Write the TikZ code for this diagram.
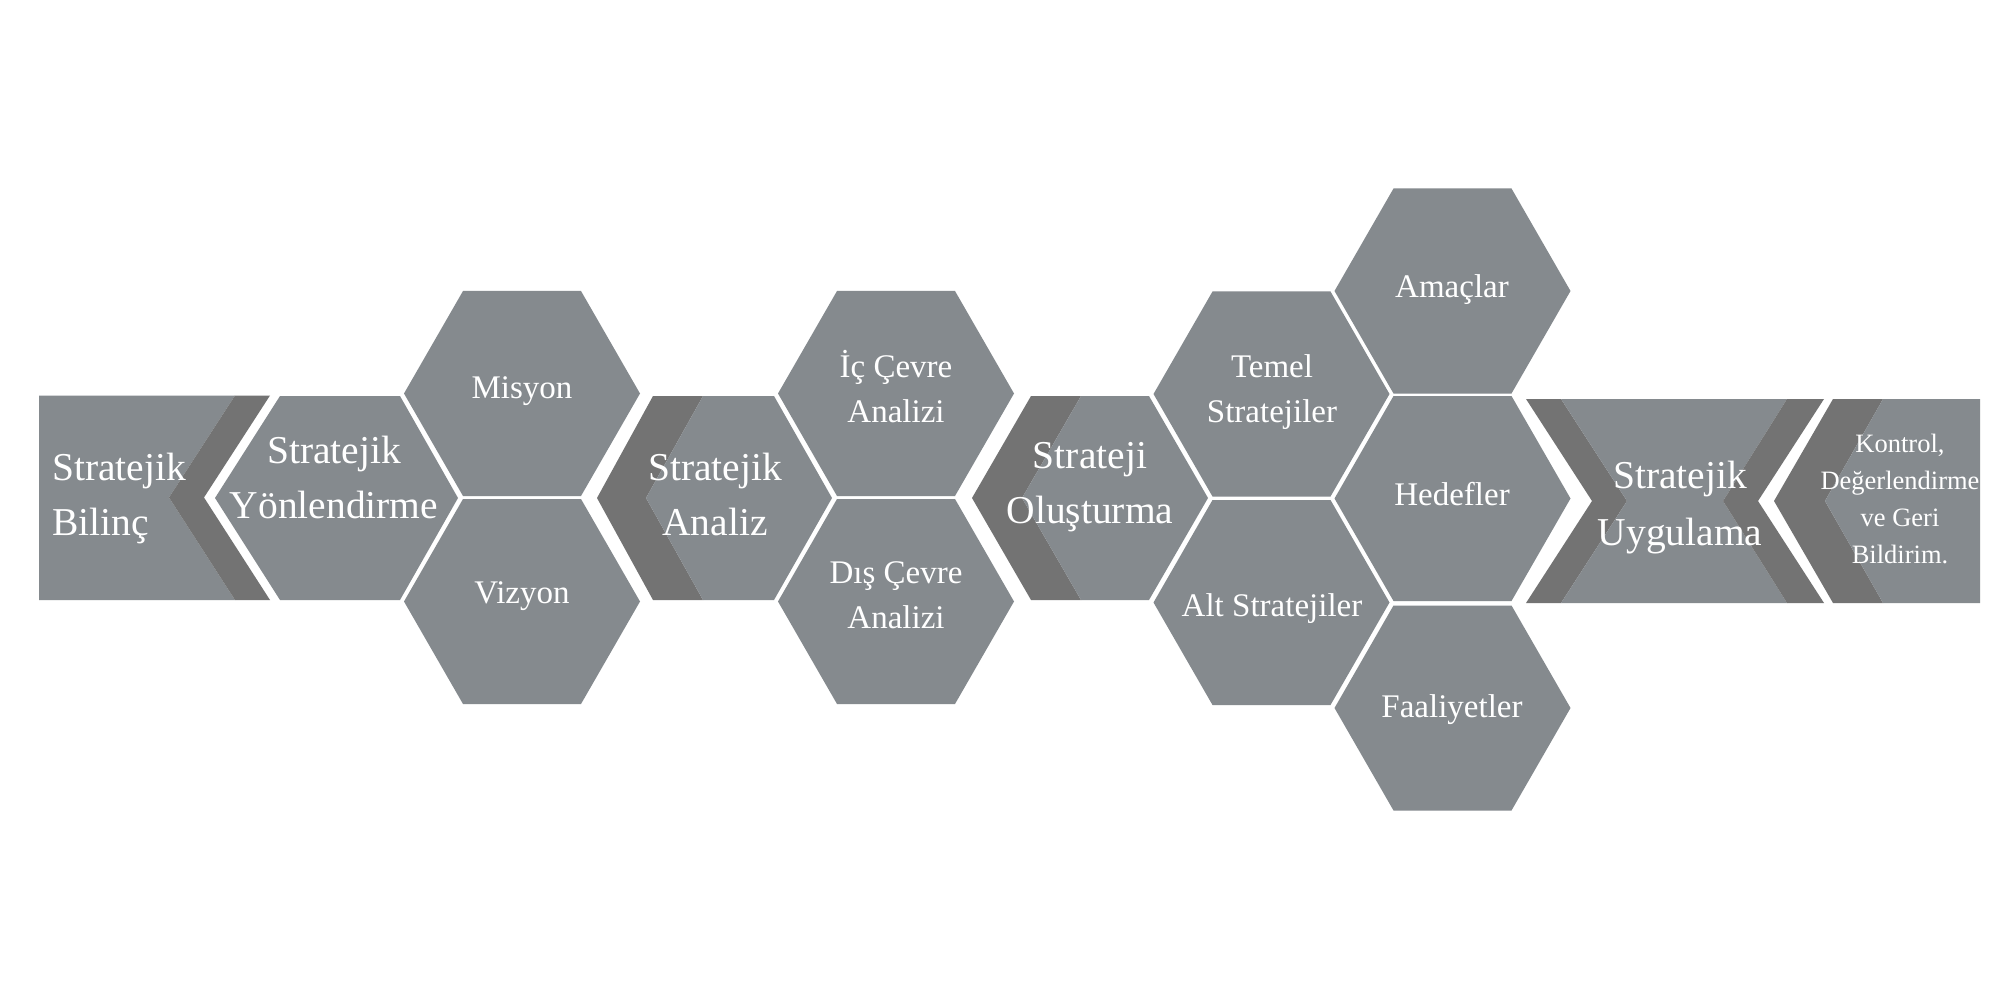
\documentclass[tikz,border=0pt]{standalone}
\usepackage{fontspec}
\setmainfont{Liberation Serif}
\definecolor{cellgray}{RGB}{133,138,142}
\definecolor{bandgray}{RGB}{115,115,115}
\newcommand{\hexcell}[2]{%
  \fill[cell] ({#1-118},{#2}) -- ({#1-59},{#2-102.5}) -- ({#1+59},{#2-102.5})
    -- ({#1+118},{#2}) -- ({#1+59},{#2+102.5}) -- ({#1-59},{#2+102.5}) -- cycle;}
\begin{document}
\begin{tikzpicture}[x=1pt,y=-1pt,
  cell/.style={fill=cellgray},
  band/.style={fill=bandgray},
  lbl/.style={text=white,inner sep=0pt,anchor=base},
  big/.style={lbl,font=\fontsize{39.5}{47}\selectfont},
  mid/.style={lbl,font=\fontsize{33}{40}\selectfont},
  small/.style={lbl,font=\fontsize{26.5}{32}\selectfont}]
\useasboundingbox[fill=white] (0,0) rectangle (2000,1000);

% Stratejik Bilinc
\fill[cell] (39,395.5) -- (235,395.5) -- (169,497.5) -- (235,600) -- (39,600) -- cycle;
\fill[band] (235,395.5) -- (270,395.5) -- (204,497.5) -- (270,600) -- (235,600) -- (169,497.5) -- cycle;
% Stratejik Yonlendirme
\fill[cell] (215,498) -- (280,396) -- (400,396) -- (458,498) -- (400,600) -- (280,600) -- cycle;
% Misyon / Vizyon
\hexcell{522}{393.5}
\hexcell{522}{601.5}
% Stratejik Analiz
\fill[band] (597,498) -- (653,396) -- (703,396) -- (646,498) -- (703,600) -- (653,600) -- cycle;
\fill[cell] (703,396) -- (774,396) -- (832,498) -- (774,600) -- (703,600) -- (646,498) -- cycle;
% Ic / Dis Cevre
\hexcell{896}{393.5}
\hexcell{896}{601.5}
% Strateji Olusturma
\fill[band] (972,498) -- (1031,396) -- (1081,396) -- (1022,498) -- (1081,600) -- (1031,600) -- cycle;
\fill[cell] (1081,396) -- (1149,396) -- (1208,498) -- (1149,600) -- (1081,600) -- (1022,498) -- cycle;
% Temel / Alt Stratejiler
\hexcell{1271.5}{394}
\hexcell{1271.5}{602.5}
% Amaclar / Hedefler / Faaliyetler
\hexcell{1452.5}{291}
\hexcell{1452.5}{498.5}
\hexcell{1452.5}{708}
% Stratejik Uygulama
\fill[band] (1526,399) -- (1561,399) -- (1627,501) -- (1561,603) -- (1526,603) -- (1592,501) -- cycle;
\fill[cell] (1561,399) -- (1787,399) -- (1723,501) -- (1787,603) -- (1561,603) -- (1627,501) -- cycle;
\fill[band] (1787,399) -- (1824,399) -- (1758,501) -- (1824,603) -- (1787,603) -- (1723,501) -- cycle;
% Kontrol
\fill[band] (1833,399) -- (1883,399) -- (1825,501) -- (1883,603) -- (1833,603) -- (1774,501) -- cycle;
\fill[cell] (1883,399) -- (1980,399) -- (1980,603) -- (1883,603) -- (1825,501) -- cycle;

% texts
\node[big,anchor=base west] (bil1) at (52,480) {Stratejik};
\node[big,anchor=base west] (bil2) at (52,535) {Bilinç};
\node[big] (yon1) at (334,463) {Stratejik};
\node[big] (yon2) at (334,518) {Yönlendirme};
\node[mid] (mis) at (522,398) {Misyon};
\node[mid] (viz) at (522,603) {Vizyon};
\node[big] (ana1) at (715,480) {Stratejik};
\node[big] (ana2) at (715,535) {Analiz};
\node[mid] (ic1) at (896,377) {İç Çevre};
\node[mid] (ic2) at (896,422) {Analizi};
\node[mid] (dis1) at (896,583) {Dış Çevre};
\node[mid] (dis2) at (896,628) {Analizi};
\node[big] (olu1) at (1090,468) {Strateji};
\node[big] (olu2) at (1090,523) {Oluşturma};
\node[mid] (tem1) at (1272,377) {Temel};
\node[mid] (tem2) at (1272,422) {Stratejiler};
\node[mid] (alt) at (1272,616) {Alt Stratejiler};
\node[mid] (ama) at (1452,298) {Amaçlar};
\node[mid] (hed) at (1452,505) {Hedefler};
\node[mid] (faa) at (1452,717) {Faaliyetler};
\node[big] (uyg1) at (1680,488) {Stratejik};
\node[big] (uyg2) at (1680,545) {Uygulama};
\node[small] (kon1) at (1900,452) {Kontrol,};
\node[small] (kon2) at (1900,489) {Değerlendirme};
\node[small] (kon3) at (1900,526) {ve Geri};
\node[small] (kon4) at (1900,563) {Bildirim.};
\end{tikzpicture}
\end{document}
